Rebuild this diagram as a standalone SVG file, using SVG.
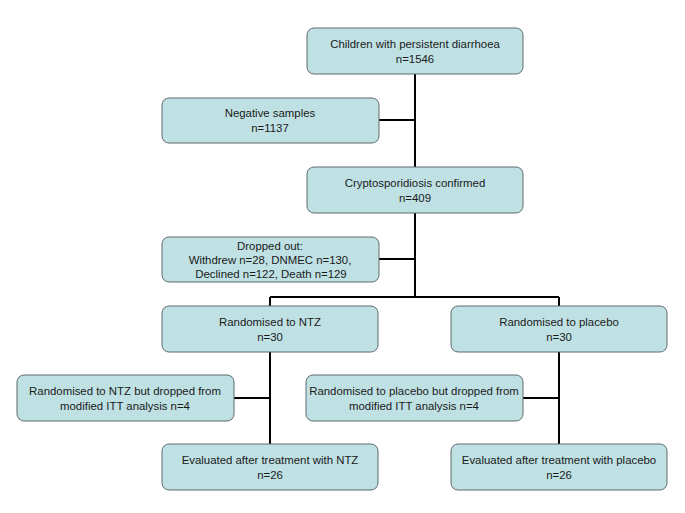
<svg xmlns="http://www.w3.org/2000/svg" width="685" height="513" viewBox="0 0 685 513">
<style>
.box{fill:#bfe1e4;stroke:#5f6b6e;stroke-width:1}
.t{font-family:"Liberation Sans",Arial,sans-serif;font-size:11.4px;fill:#1a1a1a;text-anchor:middle}
.c{stroke:#000;stroke-width:2;fill:none}
</style>
<rect width="685" height="513" fill="#fff"/>
<g id="connectors">
<path class="c" d="M415 74V297M379 120H415M379 259H415M270 297H559M270 297V306M559 297V306M270 352V444M234 398H270M559 352V444M523 398H559"/>
</g>
<g id="n1"><rect class="box" x="307" y="28" width="216" height="46" rx="7"/><text class="t" x="415" y="48">Children with persistent diarrhoea</text><text class="t" x="415" y="63">n=1546</text></g>
<g id="n2"><rect class="box" x="162" y="98" width="217" height="45" rx="7"/><text class="t" x="270" y="117">Negative samples</text><text class="t" x="270" y="132">n=1137</text></g>
<g id="n3"><rect class="box" x="307" y="167" width="216" height="46" rx="7"/><text class="t" x="415" y="187">Cryptosporidiosis confirmed</text><text class="t" x="415" y="202">n=409</text></g>
<g id="n4"><rect class="box" x="162" y="237" width="217" height="45" rx="7"/><text class="t" x="270" y="250">Dropped out:</text><text class="t" x="270" y="264">Withdrew n=28, DNMEC n=130,</text><text class="t" x="271" y="278">Declined n=122, Death n=129</text></g>
<g id="n5"><rect class="box" x="162" y="306" width="216" height="46" rx="7"/><text class="t" x="270" y="326">Randomised to NTZ</text><text class="t" x="270" y="341">n=30</text></g>
<g id="n6"><rect class="box" x="451" y="306" width="216" height="46" rx="7"/><text class="t" x="559" y="326">Randomised to placebo</text><text class="t" x="559" y="341">n=30</text></g>
<g id="n7"><rect class="box" x="17" y="375" width="217" height="46" rx="7"/><text class="t" x="125" y="395">Randomised to NTZ but dropped from</text><text class="t" x="125" y="410">modified ITT analysis n=4</text></g>
<g id="n8"><rect class="box" x="306" y="375" width="217" height="46" rx="7"/><text class="t" x="414" y="395">Randomised to placebo but dropped from</text><text class="t" x="414" y="410">modified ITT analysis n=4</text></g>
<g id="n9"><rect class="box" x="162" y="444" width="216" height="46" rx="7"/><text class="t" x="270" y="464">Evaluated after treatment with NTZ</text><text class="t" x="270" y="479">n=26</text></g>
<g id="n10"><rect class="box" x="451" y="444" width="216" height="46" rx="7"/><text class="t" x="559" y="464">Evaluated after treatment with placebo</text><text class="t" x="559" y="479">n=26</text></g>
</svg>
